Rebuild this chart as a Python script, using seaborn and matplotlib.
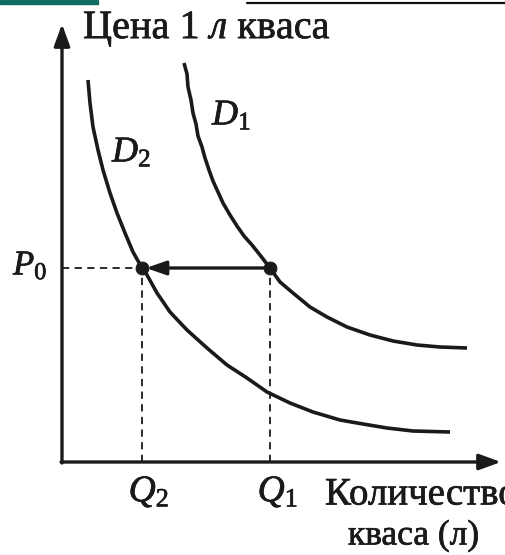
import numpy as np
import pandas as pd
import matplotlib
matplotlib.use("Agg")
import matplotlib.pyplot as plt
import matplotlib.patheffects as pe
import seaborn as sns

sns.set_theme(style="white")
plt.rcParams['font.family'] = ['Liberation Serif', 'DejaVu Serif']
plt.rcParams['mathtext.fontset'] = 'custom'
plt.rcParams['mathtext.rm'] = 'Liberation Serif'
plt.rcParams['mathtext.it'] = 'Liberation Serif:italic'

# demand curves (quantity, price)
d1_q = [12.2, 12.5, 12.6, 12.9, 13.1, 13.4, 13.6, 14.0, 14.3, 14.7, 15.1, 15.6, 16.1,
        16.8, 17.5, 18.2, 19.0, 19.8, 20.8, 21.8, 23.1, 24.8, 26.5, 28.5, 30.8,
        33.1, 35.5, 37.8, 40.5]
d1_p = [39.9, 38.8, 37.5, 36.2, 34.9, 33.8, 32.6, 31.5, 30.4, 29.2, 28.1, 27.0, 25.9,
        24.7, 23.6, 22.6, 21.7, 20.7, 19.4, 18.0, 16.9, 15.5, 14.5, 13.5, 12.7,
        12.1, 11.7, 11.5, 11.4]
d2_q = [2.6, 2.8, 3.1, 3.6, 4.1, 4.8, 5.5, 6.3, 7.1, 8.0, 8.5, 9.5, 10.8, 12.5, 14.5,
        16.5, 18.5, 20.5, 22.8, 25.1, 27.8, 30.1, 32.5, 35.1, 38.8]
d2_p = [38.2, 35.9, 33.5, 31.2, 29.2, 26.9, 24.9, 22.9, 21.0, 19.4, 18.7, 16.9, 15.0,
        13.2, 11.4, 9.7, 8.4, 7.0, 5.9, 5.0, 4.2, 3.8, 3.4, 3.1, 3.0]

p0 = 19.4
q1 = 20.8
q2 = 8.0

curves = pd.concat([
    pd.DataFrame({"q": d1_q, "p": d1_p, "curve": "D1"}),
    pd.DataFrame({"q": d2_q, "p": d2_p, "curve": "D2"}),
])
points = pd.DataFrame({"q": [q1, q2], "p": [p0, p0]})

ink = "#1a1a1a"

fig = plt.figure(figsize=(5.06, 5.55), dpi=100)
ax = fig.add_axes([0, 0, 1, 1])

sns.lineplot(data=curves, x="q", y="p", units="curve", estimator=None, sort=False,
             color=ink, lw=2.6, ax=ax, legend=False)
for l in ax.lines:
    l.set_solid_joinstyle("round")
    l.set_solid_capstyle("butt")

# dashed guide lines
ax.plot([0, q2], [p0, p0], ls=(0, (4, 3)), color=ink, lw=1.3)
ax.plot([q2, q2], [0, p0], ls=(0, (4, 3)), color=ink, lw=1.3)
ax.plot([q1, q1], [0, p0], ls=(0, (4, 3)), color=ink, lw=1.3)

# shift arrow
ax.annotate("", xy=(q2 + 0.4, p0), xytext=(q1, p0),
            arrowprops=dict(arrowstyle="-|>,head_length=1.0,head_width=0.35",
                            color=ink, lw=2.4, shrinkA=0, shrinkB=0))

sns.scatterplot(data=points, x="q", y="p", s=85, color=ink, ax=ax,
                edgecolor=ink, zorder=5)

# axes with arrows
ax.annotate("", xy=(0, 43.8), xytext=(0, -0.1),
            arrowprops=dict(arrowstyle="-|>,head_length=1.1,head_width=0.4",
                            color=ink, lw=2.4, shrinkA=0, shrinkB=0))
ax.annotate("", xy=(43.9, 0), xytext=(-0.1, 0),
            arrowprops=dict(arrowstyle="-|>,head_length=1.1,head_width=0.4",
                            color=ink, lw=2.4, shrinkA=0, shrinkB=0))

# labels
bold = [pe.withStroke(linewidth=0.5, foreground=ink)]
ax.text(2.1, 43.2, r"Цена 1 $\mathit{л}$ кваса", fontsize=29, color=ink,
        va="center", ha="left", path_effects=bold)
ax.text(15.0, 34.6, r"$D_1$", fontsize=26, color=ink, va="center", ha="left", path_effects=bold)
ax.text(5.0, 30.9, r"$D_2$", fontsize=26, color=ink, va="center", ha="left", path_effects=bold)
ax.text(-4.9, 19.6, r"$P_0$", fontsize=25, color=ink, va="center", ha="left", path_effects=bold)
ax.text(q2 + 0.7, -3.0, r"$Q_2$", fontsize=27, color=ink, va="center", ha="center", path_effects=bold)
ax.text(q1 + 0.8, -3.0, r"$Q_1$", fontsize=27, color=ink, va="center", ha="center", path_effects=bold)
# the reference crops this word at the right page edge
ax.text(26.3, -3.3, "Количество", fontsize=28, color=ink, va="center", ha="left", path_effects=bold)
ax.text(28.6, -7.4, "кваса (л)", fontsize=25.5, color=ink, va="center", ha="left", path_effects=bold)

ax.set_xlim(-6.2, 44.4)
ax.set_ylim(-9.3, 46.2)
ax.axis("off")

# page edge decorations at the top
fig.patches.append(plt.Rectangle((0, 1 - 4 / 555), 98 / 506, 4 / 555,
                                 transform=fig.transFigure, color="#0f6b63"))
fig.lines.append(plt.Line2D([247 / 506, 1], [1 - 2.5 / 555] * 2,
                            transform=fig.transFigure, color="#111111", lw=1.6))

fig.savefig("out.png", dpi=100)
